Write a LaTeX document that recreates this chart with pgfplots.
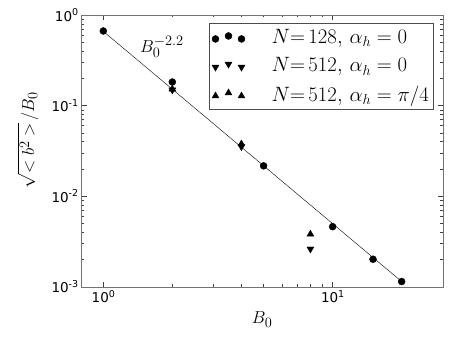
\documentclass[border=0pt]{standalone}
\usepackage{fontspec}
\usepackage{pgfplots}
\pgfplotsset{compat=1.18}
\newfontfamily\tickfont{DejaVu Sans}
\newcommand{\tl}[1]{{\tickfont\fontsize{13.5}{14}\selectfont 10\raisebox{5.5pt}{\fontsize{9.5}{10}\selectfont #1}}}
\begin{document}
\begin{tikzpicture}
\begin{axis}[
  at={(0,0)}, anchor=south west,
  scale only axis, width=361pt, height=271.7pt,
  xmode=log, ymode=log,
  xmin=0.805, xmax=30.2, ymin=1e-3, ymax=1,
  axis line style={black!55},
  tick align=inside,
  major tick length=5pt, minor tick length=2.5pt,
  every tick/.style={black!75, thin},
  xtick={1,10}, xticklabels={\tl{0},\tl{1}},
  ytick={1e-3,1e-2,1e-1,1}, yticklabels={\tl{-3},\tl{-2},\tl{-1},\tl{0}},
  xlabel={$B_0$}, ylabel={$\sqrt{<b^2>}\,/B_0$},
  label style={font=\fontsize{19}{22}\selectfont},
  xlabel style={at={(axis description cs:0.5,-0.137)}, anchor=base},
  ylabel style={at={(axis description cs:-0.11,0.54)}, anchor=south},
  legend style={at={(0.975,0.969)}, anchor=north east, draw=black!70, thin,
    font=\fontsize{19.5}{22}\selectfont, row sep=8.5pt, inner xsep=2.6pt, inner ysep=4pt},
  legend cell align=left,
  legend image code/.code={%
    \draw[#1] plot coordinates {(0pt,-1.5pt) (13pt,1.5pt) (26pt,-1.5pt)};
    \path (-2pt,0pt) (54pt,0pt);
  },
]
\addplot[black, thin, no marks, forget plot] coordinates {(1,0.66) (20,0.00114)};
\addplot[only marks, mark=*, mark size=3.5pt, black] coordinates {
  (1,0.666) (2,0.182) (5,0.0216) (10,0.0046) (15,0.00201) (20,0.00114)};
\addlegendentry{$N{=}\,128,\,\alpha_h \;{=}\; 0$}
\addplot[only marks, mark=triangle*, mark size=4pt, black, mark options={rotate=180}] coordinates {
  (2,0.149) (4,0.0352) (8,0.00261)};
\addlegendentry{$N{=}\,512,\,\alpha_h \;{=}\; 0$}
\addplot[only marks, mark=triangle*, mark size=4pt, black] coordinates {
  (2,0.152) (4,0.0377) (8,0.0038)};
\addlegendentry{$N{=}\,512,\,\alpha_h \;{=}\; \pi/4$}
\node[font=\fontsize{19}{22}\selectfont] at (axis cs:1.8,0.443) {$B_0^{-2.2}$};
\end{axis}
\pgfresetboundingbox
\path (-81.7pt,-52.3pt) rectangle (370.3pt,286.7pt);
\end{tikzpicture}
\end{document}
